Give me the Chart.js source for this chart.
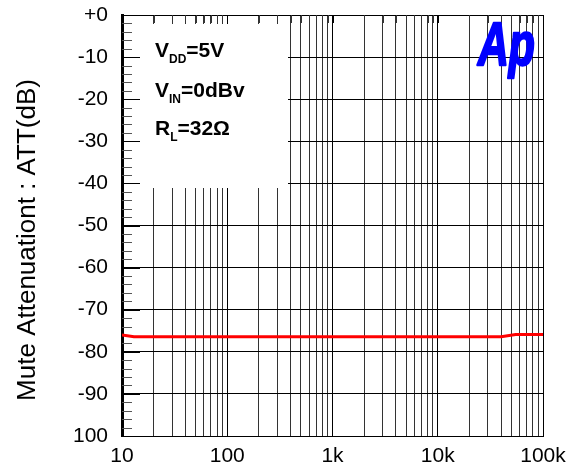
<!DOCTYPE html>
<html>
<head>
<meta charset="utf-8">
<script src="https://cdn.jsdelivr.net/npm/chart.js@4"></script>
<style>
  body { margin: 0; background: #fff; }
</style>
</head>
<body>
<canvas id="grafico" width="574" height="470"></canvas>
<script>
// Datos
const freqs = [10, 13, 20, 100, 1000, 10000, 40000, 55000, 100000];
const atten = [-76.0, -76.4, -76.4, -76.4, -76.4, -76.4, -76.4, -75.9, -75.9];

const xLabelValues = [10, 100, 1000, 10000, 100000];
const xLabelTexts = ["10", "100", "1k", "10k", "100k"];
const yTickValues = [0, -10, -20, -30, -40, -50, -60, -70, -80, -90, -100];
const yTickTexts = ["+0", "-10", "-20", "-30", "-40", "-50", "-60", "-70", "-80", "-90", "100"];
const yTitle = "Mute Attenuationt : ATT(dB)";

// líneas de la rejilla: 1..9 por década
const xDecades = [10, 100, 1000, 10000];
const xGrid = [];
xDecades.forEach(d => { for (let m = 1; m < 10; m++) xGrid.push(d * m); });
xGrid.push(100000);

const FONT = "'Liberation Sans', Arial, sans-serif";
const isMajor = v => xLabelValues.includes(v);

const decoracion = {
  id: 'decoracion',
  beforeDatasetsDraw(chart) {
    const ctx = chart.ctx;
    const a = chart.chartArea;
    const xs = chart.scales.x, ys = chart.scales.y;
    ctx.save();
    // recuadro blanco
    ctx.fillStyle = '#fff';
    ctx.fillRect(a.left + 18, a.top + 9, 148, 164);

    // marcas del eje izquierdo
    ctx.lineWidth = 1;
    for (let v = -100; v <= 0; v += 2) {
      const y = Math.round(ys.getPixelForValue(v)) + 0.5;
      const major = v % 10 === 0;
      ctx.strokeStyle = major ? '#000' : '#555';
      ctx.beginPath();
      ctx.moveTo(a.left, y);
      ctx.lineTo(a.left + (major ? 18 : 10), y);
      ctx.stroke();
    }
    // marcas del borde superior
    xGrid.forEach(v => {
      const x = Math.round(xs.getPixelForValue(v)) + 0.5;
      ctx.strokeStyle = isMajor(v) ? '#000' : '#333';
      ctx.beginPath();
      ctx.moveTo(x, a.top);
      ctx.lineTo(x, a.top + 8);
      ctx.stroke();
    });

    // texto de condiciones
    ctx.fillStyle = '#000';
    ctx.textBaseline = 'alphabetic';
    ctx.textAlign = 'left';
    const linea = (main, sub, rest, x, y) => {
      ctx.font = 'bold 21px ' + FONT;
      ctx.fillText(main, x, y);
      x += ctx.measureText(main).width;
      ctx.font = 'bold 12px ' + FONT;
      ctx.fillText(sub, x, y + 6);
      x += ctx.measureText(sub).width;
      ctx.font = 'bold 21px ' + FONT;
      ctx.fillText(rest, x, y);
    };
    linea('V', 'DD', '=5V', a.left + 33, a.top + 42);
    linea('V', 'IN', '=0dBv', a.left + 33, a.top + 82);
    linea('R', 'L', '=32Ω', a.left + 33, a.top + 120);

    // logo Ap
    ctx.save();
    ctx.translate(478, 65);
    ctx.scale(0.7, 1);
    ctx.fillStyle = '#0000ff';
    ctx.strokeStyle = '#0000ff';
    ctx.lineWidth = 2.5;
    ctx.lineJoin = 'round';
    ctx.font = 'italic bold 61px ' + FONT;
    ctx.fillText('Ap', 0, 0);
    ctx.strokeText('Ap', 0, 0);
    ctx.restore();

    // título del eje Y
    ctx.save();
    ctx.translate(28, 240);
    ctx.rotate(-Math.PI / 2);
    ctx.font = '26px ' + FONT;
    ctx.textAlign = 'center';
    ctx.textBaseline = 'middle';
    ctx.fillText(yTitle, 0, 0);
    ctx.restore();
    ctx.restore();
  }
};

new Chart(document.getElementById("grafico"), {
  type: 'line',
  data: {
    datasets: [{
      data: freqs.map((f, i) => ({ x: f, y: atten[i] })),
      borderColor: '#ff0000',
      borderWidth: 3,
      pointRadius: 0,
      tension: 0,
      fill: false
    }]
  },
  options: {
    responsive: false,
    animation: false,
    layout: { padding: { top: 15, right: 31, left: 0, bottom: 0 } },
    plugins: { legend: { display: false }, tooltip: { enabled: false } },
    scales: {
      x: {
        type: 'logarithmic',
        min: 10,
        max: 100000,
        afterBuildTicks: s => { s.ticks = xGrid.map(v => ({ value: v, major: isMajor(v) })); },
        afterFit: s => { s.height = 34; s.paddingLeft = 0; s.paddingRight = 0; },
        ticks: {
          autoSkip: false,
          maxRotation: 0,
          padding: 8,
          color: '#000',
          font: { family: FONT, size: 21 },
          callback: v => {
            const i = xLabelValues.indexOf(v);
            return i >= 0 ? xLabelTexts[i] : '';
          }
        },
        grid: {
          drawTicks: false,
          color: c => (c.tick && isMajor(c.tick.value)) ? '#000' : '#333',
          lineWidth: 1
        },
        border: { color: '#000', width: 1 }
      },
      y: {
        min: -100,
        max: 0,
        afterBuildTicks: s => { s.ticks = yTickValues.map(v => ({ value: v })); },
        afterFit: s => { s.width = 122; s.paddingTop = 0; s.paddingBottom = 0; },
        ticks: {
          padding: 14,
          color: '#000',
          font: { family: FONT, size: 21 },
          callback: v => yTickTexts[yTickValues.indexOf(v)]
        },
        grid: { drawTicks: false, color: '#000', lineWidth: 1 },
        border: { color: '#000', width: 3 }
      }
    }
  },
  plugins: [decoracion]
});
</script>
</body>
</html>
